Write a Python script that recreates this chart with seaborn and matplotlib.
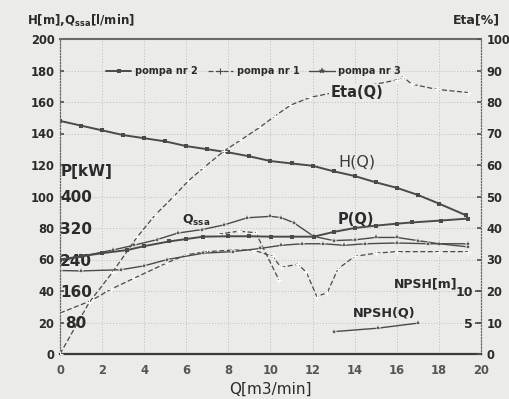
import matplotlib
matplotlib.use("Agg")
import matplotlib.pyplot as plt
import seaborn as sns
from matplotlib.lines import Line2D

sns.set_theme(style="white")
plt.rcParams["font.family"] = ["DejaVu Sans"]
plt.rcParams["mathtext.fontset"] = "dejavusans"

# ---- pump characteristics -------------------------------------------------
# head H [m]
q_head = [0, 1, 2, 3, 4, 5, 6, 7, 8, 9, 10, 11, 12, 13, 14, 15, 16, 17, 18, 19.3]
head_m = [148, 145, 142, 139, 137, 135, 132, 130, 128, 125.5, 122.5, 121, 119.5,
          116, 113, 109, 105.5, 101, 95.5, 88]

# efficiency Eta [%]
q_eta = [0, 1.4, 2.5, 3.65, 4.5, 5.4, 6.1, 6.8, 7.8, 8.6, 9.5, 10.2, 10.95, 11.9,
         16.0, 16.3, 16.7, 17.9, 19.4]
eta_pct = [0, 16.5, 26, 37, 44, 50, 55, 59, 64.5, 68, 72, 75.5, 79, 81.5,
           87, 88, 85.7, 84, 83]

# shaft power P [kW]
q_power = [0, 1, 2, 3.2, 4, 5.2, 6, 6.8, 8, 9, 10, 11, 12.05, 13, 14, 15, 16,
           16.7, 18.1, 19.4]
power_kw = [240, 248, 256, 264, 274, 286, 292, 298, 299, 299, 298, 298, 298,
            310, 320, 326, 331, 334, 339, 344]

# suction flow Q_ssa [l/min]
q_ssa = [0, 1, 2.5, 3.5, 4.6, 5.6, 6.75, 7.8, 8.9, 10, 10.5, 11.1, 12.05, 13,
         14, 15, 16, 17, 18, 19.4]
ssa_lpm = [59, 62, 66, 69, 72.6, 76.8, 79, 82, 86.5, 87.4, 86.6, 83.4, 74.7, 72,
           72.5, 74, 74, 72, 70, 68]

# second power branch [kW]
q_power_b = [0, 1, 2.9, 4, 5.1, 6.8, 8.2, 9.5, 10.5, 11.5, 12.5, 13.5, 14.5, 16,
             17.5, 19.4]
power_b_kw = [212, 211, 214, 224, 240, 256, 260, 268, 276, 280, 280, 276, 280,
              282, 280, 280]

# suction flow with cavitation dip [l/min]
q_ssa_dip = [0, 1.5, 2.4, 3.5, 5.1, 6, 7, 8.2, 9.2, 10.1, 10.5, 11.3, 11.7, 12.2,
             12.7, 13.2, 14, 15, 16, 18, 19.4]
ssa_dip_lpm = [26, 34, 41, 48, 58, 63, 65, 66, 66, 62, 55, 57, 52, 36.5, 39, 54,
               62, 64, 65, 65, 65]

# short branch ending at the drop
q_ssa_drop = [7.5, 8.5, 9.3, 10.4]
ssa_drop_lpm = [76, 78, 77, 47]

# NPSH [m]
q_npsh = [13, 15.1, 17]
npsh_m = [3.55, 4.1, 4.9]

x_ticks = list(range(0, 21, 2))
left_ticks = list(range(0, 201, 20))
eta_ticks = list(range(0, 101, 10))
power_ticks = [80, 160, 240, 320, 400]
npsh_ticks = [5, 10]
legend_labels = ["pompa nr 2", "pompa nr 1", "pompa nr 3"]

# ---- styling -------------------------------------------------------------------
BG = "#ebebe9"
INK = "#2b2b2b"
LINE = "#4a4a4a"
GRID = "#bcbcbc"

style2 = dict(color=LINE, lw=1.4, ls="-", marker="s", markersize=2.4, markeredgewidth=0)
style1 = dict(color=LINE, lw=0.9, ls=(0, (4, 2)), marker="+", markersize=4, markeredgewidth=0.8)
style3 = dict(color=LINE, lw=1.0, ls="-", marker="*", markersize=3.8, markeredgewidth=0.3)

fig = plt.figure(figsize=(5.1, 3.99), dpi=100, facecolor=BG)
ax = fig.add_axes([60 / 510, 45 / 399, 421 / 510, 315 / 399])
ax.set_facecolor(BG)
ax.set_xlim(0, 20)
ax.set_ylim(0, 200)
ax.set_xticks(x_ticks)
ax.set_yticks(left_ticks)
ax.grid(True, color=GRID, lw=0.7, ls=(0, (1, 2)))
ax.tick_params(axis="both", direction="in", length=3, color="#555555", labelsize=8.3,
               labelcolor=INK)
ax.tick_params(axis="x", pad=7, labelcolor="#555555")
ax.tick_params(axis="y", pad=4)
for lbl in ax.get_xticklabels() + ax.get_yticklabels():
    lbl.set_fontweight("bold")
for side in ("left", "right"):
    ax.spines[side].set_linestyle((0, (1, 1.5)))
    ax.spines[side].set_linewidth(0.9)
    ax.spines[side].set_color("#666666")
ax.spines["top"].set_linewidth(1.5)
ax.spines["top"].set_color("#6a6a6a")
ax.spines["bottom"].set_linewidth(1.6)
ax.spines["bottom"].set_color("#3a3a3a")

# efficiency axis on the right
ax_eta = ax.twinx()
ax_eta.set_ylim(0, 100)
ax_eta.set_yticks(eta_ticks)
ax_eta.tick_params(axis="y", direction="in", length=3, color="#555555", labelsize=8.3,
                   labelcolor=INK, pad=4)
for lbl in ax_eta.get_yticklabels():
    lbl.set_fontweight("bold")

# power scale printed inside the frame on the left
ax_p = ax.twinx()
ax_p.set_ylim(0, 800)
ax_p.yaxis.set_ticks_position("left")
ax_p.set_yticks(power_ticks)
ax_p.tick_params(axis="y", which="both", length=0, pad=-11.5, labelsize=11,
                 labelleft=True, labelright=False, labelcolor=INK)
for lbl in ax_p.get_yticklabels():
    lbl.set_ha("center")
    lbl.set_fontweight("bold")

# NPSH scale printed inside the frame on the right
ax_n = ax.twinx()
ax_n.set_ylim(0, 50)
ax_n.set_yticks(npsh_ticks)
ax_n.tick_params(axis="y", direction="in", length=4, color="#555555", pad=-6,
                 labelsize=9, labelcolor=INK)
for lbl in ax_n.get_yticklabels():
    lbl.set_ha("right")
    lbl.set_fontweight("bold")

for a in (ax_eta, ax_p, ax_n):
    for s in a.spines.values():
        s.set_visible(False)
    a.grid(False)

# ---- curves -----------------------------------------------------------------------
kw = dict(estimator=None, sort=False, legend=False)
sns.lineplot(x=q_head, y=head_m, ax=ax, **style2, **kw)
sns.lineplot(x=q_power, y=power_kw, ax=ax_p, **style2, **kw)
sns.lineplot(x=q_eta, y=eta_pct, ax=ax_eta, **style1, **kw)
sns.lineplot(x=q_ssa_dip, y=ssa_dip_lpm, ax=ax, **style1, **kw)
sns.lineplot(x=q_ssa_drop, y=ssa_drop_lpm, ax=ax, **style1, **kw)
sns.lineplot(x=q_ssa, y=ssa_lpm, ax=ax, **style3, **kw)
sns.lineplot(x=q_power_b, y=power_b_kw, ax=ax_p, **style3, **kw)
sns.lineplot(x=q_npsh, y=npsh_m, ax=ax_n, **style3, **kw)

# ---- curve names and scale titles -----------------------------------------------
tr = ax.transData
ax_n.text(14.1, 166, "Eta(Q)", transform=tr, ha="center", va="center", fontsize=10.5,
          fontweight="bold", color=INK,
          bbox=dict(facecolor=BG, edgecolor="none", pad=1))
ax_n.text(14.1, 122, "H(Q)", transform=tr, ha="center", va="center", fontsize=11.5,
          color="#3c3c3c")
ax_n.text(14.05, 85.5, "P(Q)", transform=tr, ha="center", va="center", fontsize=10.5,
          fontweight="bold", color=INK)
ax_n.text(6.45, 85, r"$\mathbf{Q_{ssa}}$", transform=tr, ha="center", va="center",
          fontsize=9, color=INK)
ax_n.text(15.4, 26, "NPSH(Q)", transform=tr, ha="center", va="center", fontsize=9.3,
          fontweight="bold", color=INK)
ax_n.text(0.05, 116, "P[kW]", transform=tr, ha="left", va="center", fontsize=11,
          fontweight="bold", color=INK)
ax_n.text(18.9, 44.5, "NPSH[m]", transform=tr, ha="right", va="center", fontsize=9,
          fontweight="bold", color=INK)

fig.text(27 / 510, 1 - 21 / 399, r"H[m],Q$_{\mathbf{ssa}}$[l/min]", ha="left",
         va="center", fontsize=8.5, fontweight="bold", color=INK)
fig.text(500 / 510, 1 - 20 / 399, "Eta[%]", ha="right", va="center", fontsize=9,
         fontweight="bold", color=INK)
ax.set_xlabel("Q[m3/min]", fontsize=11, color=INK, labelpad=4)

# ---- legend -----------------------------------------------------------------------
handles = [Line2D([], [], **style2), Line2D([], [], **style1), Line2D([], [], **style3)]
leg = ax_n.legend(handles, legend_labels, loc="center left", bbox_to_anchor=(0.1, 0.898),
                  ncol=3, frameon=False, fontsize=7, handlelength=2.6,
                  columnspacing=1.0, handletextpad=0.4, borderaxespad=0)
for t in leg.get_texts():
    t.set_fontweight("bold")
    t.set_color(INK)

fig.savefig("out.png", dpi=100, facecolor=BG)
